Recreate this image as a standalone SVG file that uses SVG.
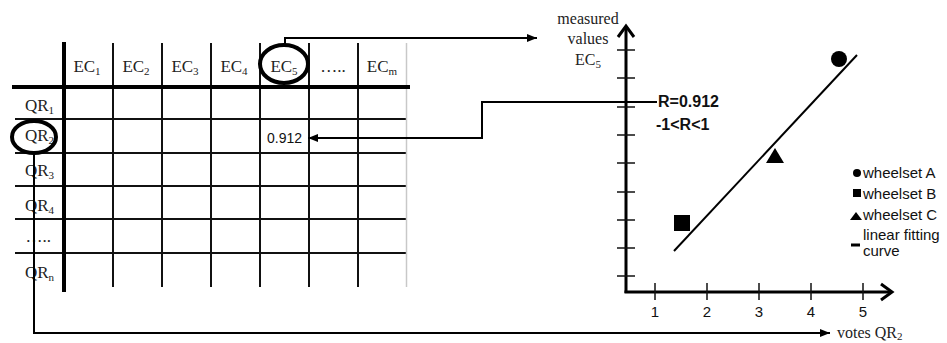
<svg xmlns="http://www.w3.org/2000/svg" width="947" height="343" viewBox="0 0 947 343">
<defs>
<style>
.serif{font-family:"Liberation Serif","Times New Roman",serif;font-size:17px;fill:#222}
.sub{font-size:11px}
.sans{font-family:"Liberation Sans",Arial,sans-serif;font-size:14px;fill:#111}
.leg{font-family:"Liberation Sans",Arial,sans-serif;font-size:15px;fill:#111}
.bold{font-family:"Liberation Sans",Arial,sans-serif;font-size:16px;font-weight:bold;fill:#111}
.thin{stroke:#111;stroke-width:2;fill:none}
.thick{stroke:#000;stroke-width:4;fill:none}
.axis{stroke:#000;stroke-width:3;fill:none}
.tick{stroke:#111;stroke-width:1.5;fill:none}
.conn{stroke:#000;stroke-width:2;fill:none}
.ring{stroke:#000;stroke-width:4;fill:none}
</style>
<marker id="arr" viewBox="0 0 10 8" refX="10" refY="4" markerWidth="10" markerHeight="8" markerUnits="userSpaceOnUse" orient="auto">
<path d="M0,0 L10,4 L0,8 Z" fill="#000"/>
</marker>
</defs>
<rect width="947" height="343" fill="#fff"/>

<g id="table">
<g id="grid">
<line class="thin" x1="15" y1="119" x2="406" y2="119"/>
<line class="thin" x1="15" y1="153" x2="406" y2="153"/>
<line class="thin" x1="15" y1="186" x2="406" y2="186"/>
<line class="thin" x1="15" y1="219" x2="406" y2="219"/>
<line class="thin" x1="15" y1="253" x2="406" y2="253"/>
<line class="thin" x1="113" y1="43" x2="113" y2="287"/>
<line class="thin" x1="162" y1="43" x2="162" y2="287"/>
<line class="thin" x1="211" y1="43" x2="211" y2="287"/>
<line class="thin" x1="260" y1="43" x2="260" y2="287"/>
<line class="thin" x1="309" y1="43" x2="309" y2="287"/>
<line class="thin" x1="358" y1="43" x2="358" y2="287"/>
<line x1="406.5" y1="43" x2="406.5" y2="287" stroke="#c8c8c8" stroke-width="1.5"/>
<line class="thick" x1="64" y1="42" x2="64" y2="292"/>
<line class="thick" x1="12" y1="87" x2="410" y2="87"/>
</g>
<g id="col-headers" class="serif" text-anchor="middle">
<text x="87" y="72">EC<tspan class="sub" dy="3">1</tspan></text>
<text x="136" y="72">EC<tspan class="sub" dy="3">2</tspan></text>
<text x="185" y="72">EC<tspan class="sub" dy="3">3</tspan></text>
<text x="234" y="72">EC<tspan class="sub" dy="3">4</tspan></text>
<text x="284" y="72">EC<tspan class="sub" dy="3">5</tspan></text>
<text x="333" y="72">…..</text>
<text x="382" y="72">EC<tspan class="sub" dy="3">m</tspan></text>
</g>
<g id="row-headers" class="serif" text-anchor="end">
<text x="54" y="111">QR<tspan class="sub" dy="3">1</tspan></text>
<text x="54" y="141">QR<tspan class="sub" dy="3">2</tspan></text>
<text x="54" y="176">QR<tspan class="sub" dy="3">3</tspan></text>
<text x="54" y="211">QR<tspan class="sub" dy="3">4</tspan></text>
<text x="51" y="242">…..</text>
<text x="54" y="278">QR<tspan class="sub" dy="3">n</tspan></text>
</g>
<text id="cell-value" class="sans" x="267" y="143">0.912</text>
</g>

<g id="highlight-ec5"><ellipse class="ring" cx="284" cy="64" rx="24" ry="19"/></g>
<g id="highlight-qr2"><ellipse class="ring" cx="34" cy="137" rx="22" ry="16"/></g>

<g id="connectors">
<polyline class="conn" points="285,45 285,38 537,38" marker-end="url(#arr)"/>
<polyline class="conn" points="657,102 482,102 482,138 308,138" marker-end="url(#arr)"/>
<polyline class="conn" points="34,153 34,333 830,333" marker-end="url(#arr)"/>
</g>

<g id="chart">
<g id="axes">
<line class="axis" x1="626" y1="27" x2="626" y2="293"/>
<line class="axis" x1="624.5" y1="292" x2="891" y2="292"/>
<polyline class="axis" points="618,37 626,26 634,37"/>
<polyline class="axis" points="881,284 892,292 881,300"/>
</g>
<g id="yticks">
<line class="tick" x1="617" y1="50" x2="635" y2="50"/>
<line class="tick" x1="617" y1="78" x2="635" y2="78"/>
<line class="tick" x1="617" y1="107" x2="635" y2="107"/>
<line class="tick" x1="617" y1="135" x2="635" y2="135"/>
<line class="tick" x1="617" y1="163" x2="635" y2="163"/>
<line class="tick" x1="617" y1="192" x2="635" y2="192"/>
<line class="tick" x1="617" y1="220" x2="635" y2="220"/>
<line class="tick" x1="617" y1="248" x2="635" y2="248"/>
<line class="tick" x1="617" y1="276" x2="635" y2="276"/>
</g>
<g id="xticks">
<line class="tick" x1="655" y1="283" x2="655" y2="300"/>
<line class="tick" x1="707" y1="283" x2="707" y2="300"/>
<line class="tick" x1="759" y1="283" x2="759" y2="300"/>
<line class="tick" x1="811" y1="283" x2="811" y2="300"/>
<line class="tick" x1="863" y1="283" x2="863" y2="300"/>
</g>
<g id="xlabels" class="leg" text-anchor="middle">
<text x="655" y="317">1</text>
<text x="707" y="317">2</text>
<text x="759" y="317">3</text>
<text x="811" y="317">4</text>
<text x="863" y="317">5</text>
</g>
<g id="ylabel" class="serif" text-anchor="middle" style="font-size:16px">
<text x="588" y="24">measured</text>
<text x="588" y="44">values</text>
<text x="588" y="65">EC<tspan class="sub" dy="3">5</tspan></text>
</g>
<text id="xlabel" class="serif" x="837" y="338" style="font-size:16px">votes QR<tspan class="sub" dy="2">2</tspan></text>
<g id="fit"><line x1="674" y1="251" x2="857" y2="55" stroke="#000" stroke-width="2"/></g>
<g id="points">
<circle cx="839" cy="59" r="8" fill="#000"/>
<polygon points="775,148 766,163 784,163" fill="#000"/>
<rect x="674" y="215" width="16" height="16" fill="#000"/>
</g>
<g id="stats">
<text class="bold" x="658" y="107">R=0.912</text>
<text class="bold" x="656" y="130">-1&lt;R&lt;1</text>
</g>
<g id="legend">
<circle cx="857" cy="173" r="4" fill="#000"/>
<text class="leg" x="863" y="178">wheelset A</text>
<rect x="853" y="189" width="8" height="8" fill="#000"/>
<text class="leg" x="863" y="199">wheelset B</text>
<polygon points="856,212 850,220 862,220" fill="#000"/>
<text class="leg" x="863" y="220">wheelset C</text>
<line x1="851" y1="245" x2="860" y2="245" stroke="#000" stroke-width="3"/>
<text class="leg" x="863" y="240">linear fitting</text>
<text class="leg" x="863" y="256">curve</text>
</g>
</g>
</svg>
